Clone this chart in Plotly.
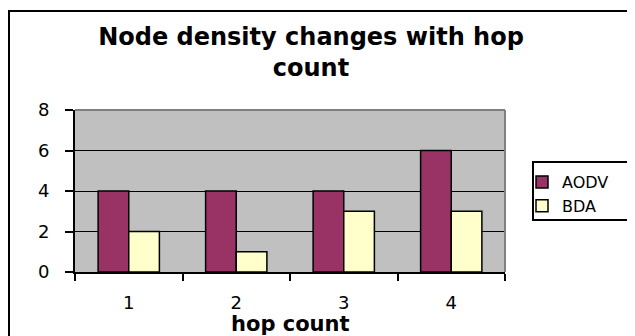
import plotly.graph_objects as go

categories = ["1", "2", "3", "4"]
aodv = [4, 4, 4, 6]
bda = [2, 1, 3, 3]
y_ticks = [0, 2, 4, 6, 8]

# page body adds an 8px offset; figure sized to the visible area
OFF = 8
W, H = 627, 328
L, R, T, B = 67, 130, 102, 64
PW, PH = W - L - R, H - T - B

def px(x):
    """screen x -> paper x"""
    return (x - OFF - L) / PW

def py(y):
    """screen y -> paper y"""
    return (H - B - (y - OFF)) / PH

fig = go.Figure()
fig.add_trace(go.Bar(x=categories, y=aodv, name="AODV",
                     marker=dict(color="#993366", line=dict(color="black", width=1.5))))
fig.add_trace(go.Bar(x=categories, y=bda, name="BDA",
                     marker=dict(color="#FFFFCC", line=dict(color="black", width=1.5))))

fig.update_layout(
    width=W, height=H,
    margin=dict(l=L, r=R, t=T, b=B),
    paper_bgcolor="white",
    plot_bgcolor="#C0C0C0",
    barmode="group",
    bargap=0.43,
    bargroupgap=0,
    font=dict(family="DejaVu Sans", color="black", size=18),
    title=dict(
        text="<b>Node density changes with hop<br>count</b>",
        font=dict(family="DejaVu Sans", size=24, color="black"),
        xref="paper", x=px(311), xanchor="center",
        yref="container", y=1 - 37 / H, yanchor="middle",
    ),
    xaxis=dict(
        type="category",
        tickson="boundaries",
        ticks="outside", ticklen=7, tickwidth=2, tickcolor="black",
        showline=True, linecolor="black", linewidth=2,
        showgrid=False, zeroline=False,
        ticklabelstandoff=13,
        tickfont=dict(size=18, family="DejaVu Sans"),
    ),
    yaxis=dict(
        range=[0, 8],
        tickmode="array", tickvals=y_ticks, ticktext=[str(v) for v in y_ticks],
        ticks="outside", ticklen=8, tickwidth=2, tickcolor="black",
        showline=True, linecolor="black", linewidth=2,
        showgrid=True, gridcolor="black", gridwidth=1,
        zeroline=False,
        ticklabelstandoff=12,
        tickfont=dict(size=18, family="DejaVu Sans"),
    ),
    legend=dict(
        x=px(522), xanchor="left",
        y=py(165), yanchor="top",
        bgcolor="rgba(0,0,0,0)",
        borderwidth=0,
        font=dict(size=16, family="DejaVu Sans"),
        tracegroupgap=0,
    ),
    showlegend=True,
)

# x axis title
fig.add_annotation(text="<b>hop count</b>", xref="paper", yref="paper",
                   x=0.5, y=py(323.5), xanchor="center", yanchor="middle",
                   showarrow=False, borderpad=0,
                   font=dict(size=21, family="DejaVu Sans", color="black"))

# outer chart border
fig.add_shape(type="rect", xref="paper", yref="paper",
              x0=(1 - L) / PW, x1=px(660), y0=py(360), y1=py(11),
              line=dict(color="black", width=2), fillcolor="rgba(0,0,0,0)", layer="above")
# plot area top/right gray border
fig.add_shape(type="line", xref="paper", yref="paper", x0=0, x1=1, y0=1, y1=1,
              line=dict(color="#808080", width=2), layer="above")
fig.add_shape(type="line", xref="paper", yref="paper", x0=1, x1=1, y0=0, y1=1,
              line=dict(color="#808080", width=2), layer="above")
# legend box
fig.add_shape(type="rect", xref="paper", yref="paper",
              x0=px(533), x1=px(628), y0=py(220), y1=py(162),
              line=dict(color="black", width=2), fillcolor="white", layer="below")

fig.write_html("out.html")
